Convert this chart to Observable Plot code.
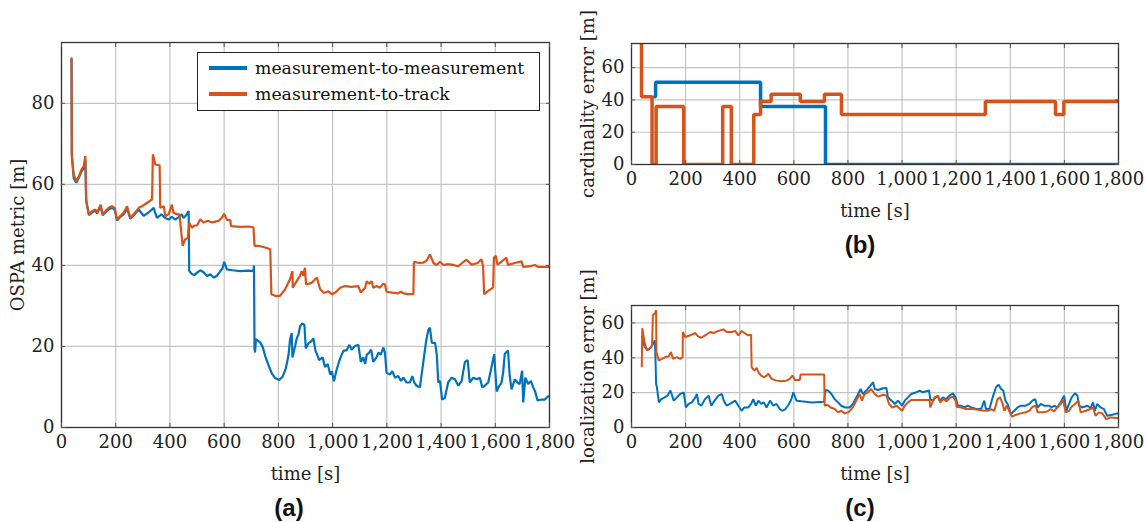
<!DOCTYPE html>
<html><head><meta charset="utf-8">
<script src="https://cdn.jsdelivr.net/npm/d3@7"></script>
<script src="https://cdn.jsdelivr.net/npm/@observablehq/plot@0.6"></script>
<style>
body{margin:0;background:#fff;}
#fig{position:relative;width:1145px;height:522px;background:#fff;overflow:hidden;font-family:"DejaVu Serif",serif;}
.panel{position:absolute;overflow:visible;}
.sub{position:absolute;font-family:"Liberation Sans",Arial,sans-serif;font-weight:bold;font-size:24px;transform:translate(-50%,-50%);color:#111;white-space:nowrap;}
#legend{position:absolute;left:197px;top:52px;width:343px;height:59px;border:1px solid #222;background:#fff;box-sizing:border-box;}
.lrow{position:absolute;left:0;height:24px;display:flex;align-items:center;font-size:17.3px;color:#111;}
.lsw{width:38px;height:3.5px;margin-left:11px;margin-right:8px;}
</style></head><body><div id="fig"></div><script>
// ---- data ----
const xTicks = [0,200,400,600,800,1000,1200,1400,1600,1800];
const ospaTicks = [0,20,40,60,80];
const cardTicks = [0,20,40,60];
const locTicks = [0,20,40,60];
const seriesNames = ["measurement-to-measurement","measurement-to-track"];
const seriesColors = ["#0072BD","#D95319"];

// (a) OSPA metric [m]: [time s, value]
const ospaM2M = [[37,91],[38,67],[45,61.5],[54,60.4],[64,61.6],[74,63.2],[82,64],[88,66],[91,55.8],[101,52.4],[113,53.1],[125,53.5],[131,52.8],[144,54.5],[152,52.4],[162,53.1],[174,53.8],[186,54.2],[196,53.8],[205,51.1],[217,52],[229,52.6],[242,54],[254,51.5],[266,52.3],[285,53.8],[303,52.2],[320,53],[340,54.2],[352,51.7],[368,52.6],[383,51.7],[395,51.3],[407,52],[420,51.3],[432,51.9],[444,52.6],[450,51.7],[459,52.3],[469,53.4],[471,38.6],[481,37.9],[490,37.6],[500,38.2],[512,38.8],[524,38.3],[537,37.4],[549,37.8],[561,37],[573,37.4],[586,38.6],[594,39.3],[600,40.9],[610,39],[630,38.8],[660,38.6],[690,38.7],[708,38.6],[710,40],[712,19.3],[714,18.5],[717,21.8],[733,21],[742,19.9],[751,17.7],[764,15.3],[776,13.3],[788,12.2],[803,11.7],[815,12.5],[827,14.5],[837,17.7],[843,21.7],[849,23.3],[852,17.3],[862,20.2],[868,22.1],[874,22.9],[880,25],[888,25.7],[896,25.3],[901,19.5],[911,20.8],[920,21.2],[929,22],[937,18.9],[946,17.5],[950,16.6],[963,17.3],[972,14.9],[982,15.7],[991,13.1],[997,13.9],[1005,11.4],[1015,14.3],[1028,17.1],[1040,18.9],[1052,19.1],[1062,20.4],[1070,19.2],[1083,20.1],[1095,20.4],[1104,16.2],[1113,17.3],[1120,15.7],[1126,18],[1134,18.4],[1142,19.2],[1150,16.2],[1162,17.3],[1169,18.5],[1178,18],[1187,19.7],[1193,18.5],[1199,13.5],[1212,13.1],[1220,13.9],[1230,12.3],[1242,12.7],[1252,11.5],[1261,12.3],[1273,11.1],[1285,11.1],[1294,12.7],[1301,11.1],[1310,10.3],[1322,9.9],[1335,16.4],[1345,21.3],[1353,24.1],[1359,24.6],[1366,20.9],[1378,20.9],[1384,18.1],[1390,11.1],[1396,11.5],[1404,6.9],[1414,7.3],[1426,11.1],[1439,12.3],[1451,11.9],[1464,10.3],[1476,11.5],[1488,16.2],[1498,16.6],[1506,11.1],[1519,12.3],[1531,11.9],[1543,12.3],[1552,9.9],[1561,10.3],[1574,11.1],[1586,14.9],[1596,18.1],[1605,8.9],[1613,10.1],[1623,11.1],[1629,13.5],[1635,18.2],[1647,19],[1653,12.9],[1660,9.4],[1672,11.9],[1682,11.1],[1690,10.7],[1699,14],[1703,6.2],[1711,12.3],[1721,10.7],[1731,11.5],[1740,9.9],[1746,9.1],[1756,6.7],[1771,6.9],[1783,6.9],[1795,7.7],[1800,7.7]];
const ospaM2T = [[37,91],[38,67.4],[45,62.4],[54,60.8],[64,62],[74,63.7],[82,64.5],[88,67],[91,56.3],[101,52.6],[113,53.4],[125,53.8],[131,53],[144,55],[152,52.6],[162,53.4],[174,54.2],[186,54.6],[196,54.2],[205,51.3],[217,52.2],[229,53],[242,54.6],[254,51.7],[266,52.6],[285,54.2],[297,54.6],[315,55.4],[334,56.3],[337,67.4],[346,64.9],[362,64.7],[364,54.2],[377,54.6],[383,52.2],[395,52.6],[407,55],[413,53],[426,52.6],[435,52.6],[442,48],[447,44.8],[456,46.4],[466,46.8],[471,50.5],[481,49.3],[490,49.8],[500,49.9],[512,51.4],[524,50.6],[540,51],[555,50.6],[580,51],[592,51.8],[600,52.7],[610,51.3],[623,51.1],[625,49.7],[660,49.5],[690,49.6],[708,49.4],[712,44.8],[730,44.8],[751,44.4],[770,44],[774,32.9],[788,32.5],[806,32.5],[825,34.1],[843,36.6],[852,38.6],[853,34.5],[868,36.2],[880,37.4],[886,38.6],[892,37.4],[898,39.4],[902,35.3],[923,35.7],[942,37],[954,34.1],[966,33.3],[972,33.3],[985,33.6],[997,32.9],[1010,33.3],[1028,34.5],[1046,34.9],[1070,34.7],[1095,34.9],[1104,33.3],[1120,34.5],[1126,36.1],[1134,35.5],[1144,36.1],[1150,34.5],[1162,34.9],[1175,34.5],[1187,35.5],[1193,35.3],[1199,33.5],[1220,33.3],[1242,33.1],[1252,33.5],[1261,33.1],[1279,32.9],[1298,32.9],[1300,40.9],[1318,40.6],[1335,40.7],[1347,41.2],[1359,42.7],[1372,40.6],[1384,40.1],[1396,40.9],[1409,40.1],[1425,40.3],[1439,40.2],[1464,39.8],[1478,40.6],[1494,41.4],[1512,40.2],[1535,40.6],[1549,41.5],[1555,39.8],[1559,32.9],[1574,33.7],[1592,34.5],[1595,41.9],[1602,42.4],[1608,40.2],[1623,40.9],[1641,41.9],[1647,40.1],[1672,40.6],[1697,41],[1703,39.6],[1728,39.8],[1746,40.1],[1758,39.6],[1800,39.6]];

// (b) cardinality error [m]: step changes [time s, value]
const cardM2M = [[85,42],[89,51],[477,36],[717,0],[1800,0]];
const cardM2T = [[36,90],[37,42],[76,0],[91,36],[193,0],[337,36],[369,0],[452,31],[477,39],[516,43.5],[624,39],[713,43.5],[776,31],[1308,39],[1567,31],[1598,39],[1800,39]];

// (c) localization error [m]: [time s, value]
const locM2M = [[39,52],[45,48],[50,46],[58,44.5],[70,45.5],[80,48],[86,50],[88,43],[91,25],[94,23],[101,14.4],[110,16.3],[123,17.3],[133,18.3],[144,21.2],[156,15.4],[168,17.3],[180,19.2],[193,20.2],[201,11.5],[211,13.5],[223,14.4],[236,17.3],[242,19.2],[248,13.5],[258,12.5],[272,16.3],[285,18.3],[295,12.5],[307,15.4],[321,18.3],[334,19.2],[341,15.4],[352,12.5],[364,13.5],[373,14.4],[383,15.4],[395,12.5],[407,9.6],[417,11.5],[432,11.5],[442,13.5],[450,16.3],[459,12.5],[469,15.4],[479,13.5],[489,14.4],[499,11.5],[512,15.4],[524,12.5],[536,13.5],[548,10.6],[557,9.6],[569,10.6],[582,13.5],[591,16.3],[598,20.2],[610,15.4],[628,15],[665,14.4],[712,14.8],[717,21.5],[726,21.2],[739,19.2],[751,16.3],[763,14.4],[775,12.5],[790,11.5],[806,11.5],[818,13.5],[831,17.3],[847,22.1],[855,19.2],[868,21.2],[883,24],[893,26],[899,22.1],[912,21.5],[930,22.5],[942,22.7],[948,17.3],[961,15.4],[973,13.5],[985,15.4],[1000,12.5],[1010,15.4],[1022,17.3],[1034,19.2],[1053,20.2],[1065,21.2],[1077,20.2],[1090,20.8],[1100,21.2],[1104,16.3],[1114,15.4],[1124,17.3],[1133,17.7],[1139,15.4],[1151,17.3],[1163,16.3],[1175,18.3],[1188,19.6],[1198,17.3],[1206,12.5],[1218,12.5],[1231,11.5],[1243,12.5],[1255,11.5],[1274,10.6],[1292,10.6],[1304,15.4],[1310,10.6],[1323,10.6],[1335,17.3],[1347,23.1],[1357,24.6],[1366,22.1],[1374,21.2],[1382,15.4],[1390,13.5],[1402,7.7],[1415,9.6],[1427,11.5],[1439,12.5],[1457,12.5],[1470,13.5],[1482,15.4],[1492,16.3],[1501,11.5],[1513,13.5],[1525,12.5],[1544,12.5],[1553,11.5],[1562,12.5],[1574,11.5],[1586,14.4],[1599,18.3],[1607,9.6],[1617,13.5],[1627,17.3],[1639,19.6],[1648,18.3],[1654,12.5],[1666,11.5],[1685,12.5],[1697,11.2],[1706,14.4],[1713,9.6],[1721,13.5],[1734,11.5],[1746,10.6],[1758,6.7],[1777,7.3],[1795,8.1],[1800,8.1]];
const locM2T = [[38,35],[40,57],[49,48],[58,44.2],[66,45.2],[76,47.1],[79,64.4],[86,65.4],[91,67.3],[92,43.3],[101,38.5],[113,39.4],[125,40.4],[137,40.8],[146,43.3],[153,39.4],[168,40.4],[180,39.4],[189,40.4],[190,54.8],[199,51.9],[217,52.9],[236,54.2],[246,52.3],[258,51.5],[272,52.9],[291,54.8],[303,54.2],[321,55.4],[340,56.3],[352,54.8],[370,54.8],[383,55.4],[395,52.9],[407,55.4],[420,53.9],[432,52.9],[442,53.3],[444,34.6],[454,32.7],[463,34.2],[469,31.7],[479,29.8],[491,28.8],[506,30.8],[518,27.9],[536,26.9],[555,26.5],[573,26.9],[585,27.9],[595,29.8],[604,27.3],[622,27.3],[625,30.4],[712,30.4],[714,12.5],[724,13.1],[736,11.5],[751,10.6],[763,8.7],[775,9.6],[788,8.1],[802,8.7],[818,11.5],[831,15.4],[843,19.2],[852,15.4],[861,19.2],[874,20.2],[886,22.1],[899,19.2],[912,17.7],[930,18.8],[942,18.3],[952,13.5],[964,11.5],[980,12.5],[1000,9.6],[1010,12.5],[1022,14.4],[1034,15.8],[1065,15.8],[1102,15.8],[1104,11.5],[1120,17.3],[1133,18.3],[1141,14.4],[1153,16.3],[1165,15],[1175,16.9],[1188,17.7],[1198,15.4],[1202,11.9],[1218,11.5],[1237,10.6],[1262,10.6],[1286,10],[1304,9.6],[1317,9.6],[1329,10.6],[1341,9.6],[1353,16.3],[1362,17.3],[1372,13.5],[1378,9.6],[1387,12.5],[1396,9.6],[1406,6.2],[1421,7.3],[1439,8.1],[1457,8.7],[1470,9.6],[1482,11.9],[1494,12.5],[1501,8.7],[1519,8.7],[1537,9.2],[1549,10.6],[1562,9.2],[1574,11.5],[1586,13.5],[1595,15.8],[1605,8.7],[1617,9.6],[1627,11.9],[1639,13.5],[1652,15.4],[1660,8.7],[1679,9.6],[1697,10.6],[1706,11.5],[1715,6.7],[1727,8.7],[1740,8.1],[1755,4.8],[1771,5.8],[1795,5.4],[1800,5.4]];

// ---- drawing ----
const fig = document.getElementById("fig");
function panel(cfg) {
  const lines = cfg.series.map((s, i) => Plot.line(s, {
    x: d => d[0], y: d => d[1], stroke: seriesColors[i], strokeWidth: cfg.sw,
    curve: cfg.curve || "linear", clip: true, strokeLinejoin: "miter"
  }));
  const svg = Plot.plot({
    width: cfg.width, height: cfg.height,
    marginLeft: cfg.ml, marginRight: cfg.mr, marginTop: cfg.mt, marginBottom: cfg.mb,
    style: {fontFamily: "'DejaVu Serif', serif", fontSize: "18px", color: "#222", background: "transparent", overflow: "visible"},
    x: {domain: [0, 1800]},
    y: {domain: cfg.yDomain},
    marks: [
      Plot.gridX(xTicks, {stroke: "#c4c4c4", strokeOpacity: 1, strokeWidth: 1.2}),
      Plot.gridY(cfg.yTicks, {stroke: "#c4c4c4", strokeOpacity: 1, strokeWidth: 1.2}),
      ...lines,
      Plot.frame({stroke: "#333", strokeWidth: 1.3}),
      Plot.axisX(xTicks, {anchor: "bottom", tickSize: -4, tickPadding: 12, tickFormat: d3.format(","),
        label: "time [s]", labelAnchor: "center", labelArrow: false, labelOffset: 52, stroke: "#555"}),
      Plot.axisX(xTicks, {anchor: "top", tickSize: -4, tickFormat: () => "", label: null, stroke: "#555"}),
      Plot.axisY(cfg.yTicks, {anchor: "left", tickSize: -4, tickPadding: 11, label: cfg.yLabel,
        labelAnchor: "center", labelArrow: false, labelOffset: 50, stroke: "#555"}),
      Plot.axisY(cfg.yTicks, {anchor: "right", tickSize: -4, tickFormat: () => "", label: null, stroke: "#555"})
    ]
  });
  svg.classList.add("panel");
  svg.style.left = cfg.left + "px";
  svg.style.top = cfg.top + "px";
  fig.appendChild(svg);
}

panel({left: 0, top: 0, width: 570, height: 490, ml: 61, mr: 21, mt: 42, mb: 63,
  yDomain: [0, 95], yTicks: ospaTicks, yLabel: "OSPA metric [m]", series: [ospaM2M, ospaM2T], sw: 2.2});
panel({left: 570, top: 0, width: 575, height: 260, ml: 61, mr: 27, mt: 43, mb: 96,
  yDomain: [0, 75], yTicks: cardTicks, yLabel: "cardinality error [m]", series: [cardM2M, cardM2T], sw: 3.5, curve: "step-after"});
panel({left: 570, top: 260, width: 575, height: 230, ml: 61, mr: 27, mt: 45, mb: 63,
  yDomain: [0, 70], yTicks: locTicks, yLabel: "localization error [m]", series: [locM2M, locM2T], sw: 2});

// legend
const lg = document.createElement("div");
lg.id = "legend";
seriesNames.forEach((n, i) => {
  const r = document.createElement("div");
  r.className = "lrow";
  r.style.top = (3 + i * 26) + "px";
  const sw = document.createElement("div");
  sw.className = "lsw";
  sw.style.background = seriesColors[i];
  const t = document.createElement("span");
  t.textContent = n;
  r.appendChild(sw); r.appendChild(t);
  lg.appendChild(r);
});
fig.appendChild(lg);

// sub-figure labels
[["(a)", 289, 508], ["(b)", 860, 245], ["(c)", 860, 508]].forEach(([s, x, y]) => {
  const d = document.createElement("div");
  d.className = "sub"; d.textContent = s;
  d.style.left = x + "px"; d.style.top = y + "px";
  fig.appendChild(d);
});
</script></body></html>
